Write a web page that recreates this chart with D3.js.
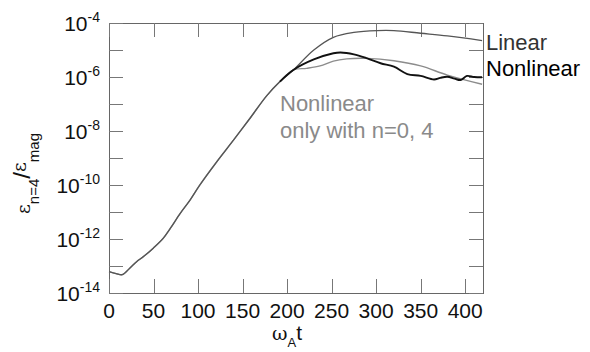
<!DOCTYPE html>
<html>
<head>
<meta charset="utf-8">
<script src="https://cdn.jsdelivr.net/npm/d3@7"></script>
<style>
  html, body { margin: 0; padding: 0; background: #fff; }
  svg { display: block; font-family: "Liberation Sans", Arial, sans-serif; }
</style>
</head>
<body>
<div id="chart"></div>
<script>
// ── Data (time, log10 of energy ratio) ──────────────────────────
const growthT   = [0, 8, 15, 23, 31, 38, 50, 61, 69, 80, 91, 102, 121, 140, 159, 177, 192, 207];
const growthLog = [-13.21, -13.28, -13.32, -13.09, -12.84, -12.67, -12.33, -11.97, -11.6, -11.05, -10.56, -10.0, -9.14, -8.33, -7.5, -6.7, -6.17, -5.74];

const linearT   = [230, 252, 275, 301, 320, 350, 380, 419];
const linearLog = [-5.0, -4.53, -4.35, -4.28, -4.28, -4.38, -4.48, -4.65];

const nonlinT   = [230, 252, 260, 275, 290, 305, 320, 335, 350, 365, 372, 380, 388, 395, 402, 410, 419];
const nonlinLog = [-5.35, -5.12, -5.09, -5.16, -5.31, -5.49, -5.62, -5.89, -5.96, -6.09, -6.03, -5.99, -6.06, -6.11, -5.96, -6.0, -6.01];

const n04T   = [222, 237, 252, 267, 290, 320, 350, 380, 419];
const n04Log = [-5.68, -5.59, -5.41, -5.33, -5.31, -5.4, -5.59, -5.93, -6.27];

const xTicks = [0, 50, 100, 150, 200, 250, 300, 350, 400];
const yTickExps = [-14, -13, -12, -11, -10, -9, -8, -7, -6, -5, -4];
const yLabelExps = [-14, -12, -10, -8, -6, -4];

// ── Layout ───────────────────────────────────────────────────────
const W = 590, H = 352;
const M = { left: 109, right: 483, top: 23, bottom: 293 };

const svg = d3.select('#chart').append('svg')
  .attr('width', W).attr('height', H);

const x = d3.scaleLinear().domain([0, 420]).range([M.left, M.right]);
const y = d3.scaleLinear().domain([-14, -4]).range([M.bottom, M.top]);

const series = (ts, ls) => ts.map((t, i) => ({ t, v: ls[i] }));
const growth = series(growthT, growthLog);
const lastGrowth = growth.slice(-2);

const line = d3.line()
  .x(d => x(d.t))
  .y(d => y(d.v))
  .curve(d3.curveCatmullRom.alpha(0.5));

// frame
svg.append('rect')
  .attr('x', M.left + 0.5).attr('y', M.top + 0.5)
  .attr('width', M.right - M.left).attr('height', M.bottom - M.top)
  .attr('fill', 'none').attr('stroke', '#666').attr('stroke-width', 1);

// ticks (all four sides)
const tickLen = 14;
const tg = svg.append('g').attr('stroke', '#777').attr('stroke-width', 1);
xTicks.forEach(t => {
  const px = Math.round(x(t)) + 0.5;
  tg.append('line').attr('x1', px).attr('x2', px).attr('y1', M.bottom).attr('y2', M.bottom - tickLen);
  tg.append('line').attr('x1', px).attr('x2', px).attr('y1', M.top).attr('y2', M.top + tickLen);
});
yTickExps.forEach(e => {
  const py = Math.round(y(e)) + 0.5;
  tg.append('line').attr('x1', M.left).attr('x2', M.left + tickLen).attr('y1', py).attr('y2', py);
  tg.append('line').attr('x1', M.right).attr('x2', M.right - tickLen).attr('y1', py).attr('y2', py);
});

// x tick labels
svg.append('g').selectAll('text')
  .data(xTicks).enter().append('text')
  .attr('x', d => x(d)).attr('y', 318)
  .attr('text-anchor', 'middle')
  .attr('font-size', 21).attr('fill', '#111')
  .text(d => d);

// y tick labels 10^e
yLabelExps.forEach(e => {
  const t = svg.append('text')
    .attr('x', 100).attr('y', y(e) + 8)
    .attr('text-anchor', 'end')
    .attr('font-size', 21).attr('fill', '#111');
  t.append('tspan').text('10');
  t.append('tspan').attr('font-size', 14).attr('dy', -9).text(e);
});

// curves — shared growth drawn thin & grey, nonlinear thick only after split
const curveG = svg.append('g').attr('fill', 'none').attr('stroke-linejoin', 'round');
curveG.append('path')
  .attr('d', line(growth.concat(series(n04T, n04Log))))
  .attr('stroke', '#8c8c8c').attr('stroke-width', 1.4);
curveG.append('path')
  .attr('d', line(growth.concat(series(linearT, linearLog))))
  .attr('stroke', '#555').attr('stroke-width', 1.3);
curveG.append('path')
  .attr('d', line(lastGrowth.concat(series(nonlinT, nonlinLog))))
  .attr('stroke', '#111').attr('stroke-width', 1.9);

// right-hand labels
svg.append('text').attr('x', 486).attr('y', 50)
  .attr('font-size', 22).attr('fill', '#333').text('Linear');
svg.append('text').attr('x', 486).attr('y', 76)
  .attr('font-size', 22).attr('fill', '#000').text('Nonlinear');

// annotation
svg.append('text').attr('x', 280).attr('y', 111)
  .attr('font-size', 22).attr('fill', '#8a8a8a').text('Nonlinear');
svg.append('text').attr('x', 280).attr('y', 138)
  .attr('font-size', 22).attr('fill', '#8a8a8a').text('only with n=0, 4');

// x axis title  ω_A t
const xt = svg.append('text').attr('x', 272).attr('y', 340)
  .attr('font-size', 21).attr('fill', '#111');
xt.append('tspan').attr('font-family', '"DejaVu Serif", serif').attr('font-size', 19).text('ω');
xt.append('tspan').attr('font-size', 13).attr('dy', 7).text('A');
xt.append('tspan').attr('dy', -7).text('t');

// y axis title  ε_{n=4}/ε_{mag}
const yt = svg.append('text')
  .attr('transform', 'translate(30,214) rotate(-90)')
  .attr('font-size', 22).attr('fill', '#111');
yt.append('tspan').attr('font-family', '"DejaVu Serif", serif').attr('font-size', 19).text('ε');
yt.append('tspan').attr('font-size', 15).attr('dy', 9).text('n=4');
yt.append('tspan').attr('dy', -9).attr('font-size', 24).text('/');
yt.append('tspan').attr('font-family', '"DejaVu Serif", serif').attr('font-size', 19).attr('dy', -4).text('ε');
yt.append('tspan').attr('font-size', 15).attr('dy', 13).text('mag');
</script>
</body>
</html>
